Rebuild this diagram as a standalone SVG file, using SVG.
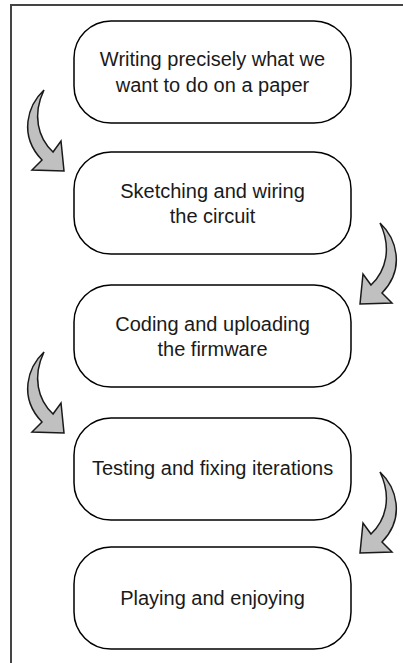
<svg xmlns="http://www.w3.org/2000/svg" width="403" height="663" viewBox="0 0 403 663">
  <defs>
    <style>
      .frame { fill: none; stroke: #444; stroke-width: 2; }
      .node rect { fill: #fff; stroke: #000; stroke-width: 1.5; }
      .node text { font-family: "Liberation Sans", Arial, sans-serif; font-size: 20px; fill: #1a1a1a; text-anchor: middle; }
      .arrow { fill: #c0c0c0; stroke: #1a1a1a; stroke-width: 1.5; stroke-linejoin: miter; }
    </style>
    <path id="curl" d="M44,90 C28,105 18,135 42,160 L32,170 L64,171 L61,141 L53,152 C38,138 32,115 44,90 Z"/>
  </defs>
  <rect width="403" height="663" fill="#fff"/>
  <path class="frame" d="M11,663 V5 H403"/>

  <g id="node1" class="node">
    <rect x="74" y="21" width="277" height="102" rx="37" ry="37"/>
    <text x="212.5" y="66">Writing precisely what we</text>
    <text x="212.5" y="92">want to do on a paper</text>
  </g>
  <g id="node2" class="node">
    <rect x="74" y="152" width="277" height="102" rx="37" ry="37"/>
    <text x="212.5" y="198">Sketching and wiring</text>
    <text x="212.5" y="223">the circuit</text>
  </g>
  <g id="node3" class="node">
    <rect x="74" y="285" width="277" height="102" rx="37" ry="37"/>
    <text x="212.5" y="331">Coding and uploading</text>
    <text x="212.5" y="356">the firmware</text>
  </g>
  <g id="node4" class="node">
    <rect x="74" y="418" width="277" height="102" rx="37" ry="37"/>
    <text x="212.5" y="475">Testing and fixing iterations</text>
  </g>
  <g id="node5" class="node">
    <rect x="74" y="547" width="277" height="102" rx="37" ry="37"/>
    <text x="212.5" y="605">Playing and enjoying</text>
  </g>

  <g id="connectors">
    <use href="#curl" class="arrow"/>
    <use href="#curl" class="arrow" transform="translate(424,133) scale(-1,1)"/>
    <use href="#curl" class="arrow" transform="translate(0,262)"/>
    <use href="#curl" class="arrow" transform="translate(424,382) scale(-1,1)"/>
  </g>
</svg>
